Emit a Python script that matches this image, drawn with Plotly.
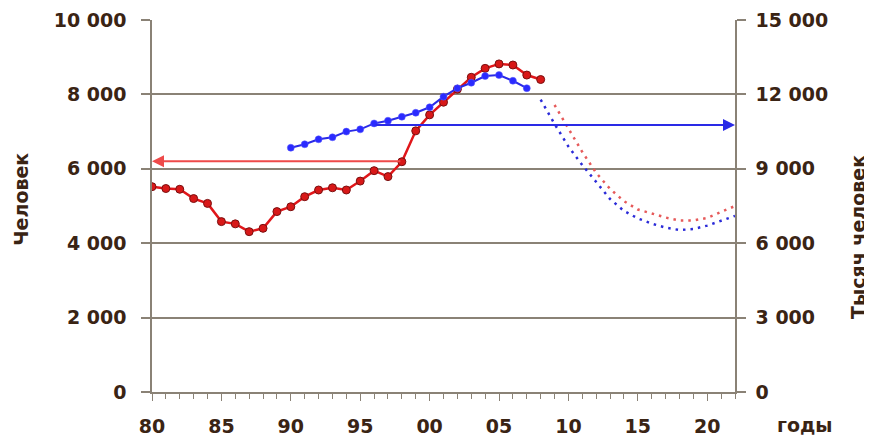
import plotly.graph_objects as go

# ---- data ----
red_years = list(range(1980, 2009))
red_values = [5520, 5470, 5450, 5200, 5070, 4580, 4520, 4310, 4400, 4850,
              4980, 5250, 5430, 5490, 5430, 5670, 5950, 5790, 6190, 7020,
              7450, 7790, 8140, 8460, 8700, 8820, 8790, 8520, 8400]

blue_years = list(range(1990, 2008))
blue_values = [9850, 9990, 10190, 10270, 10500, 10590, 10830, 10940, 11100, 11260,
               11480, 11910, 12250, 12470, 12740, 12780, 12550, 12250]

red_fc_years = list(range(2009, 2023))
red_fc_values = [7715, 7070, 6450, 5890, 5460, 5130, 4905, 4800, 4690, 4610,
                 4610, 4680, 4840, 5000]

blue_fc_years = list(range(2008, 2023))
blue_fc_values = [11790, 10810, 9900, 9150, 8470, 7780, 7300, 7000, 6790, 6630,
                  6530, 6570, 6710, 6900, 7100]

red_arrow = {"from_year": 1998, "to_year": 1980, "value": 6200}
blue_arrow = {"from_year": 1996, "to_year": 2022, "value": 10770}

x_tickvals = [1980, 1985, 1990, 1995, 2000, 2005, 2010, 2015, 2020]
x_ticktext = ["80", "85", "90", "95", "00", "05", "10", "15", "20"]
left_tickvals = [0, 2000, 4000, 6000, 8000, 10000]
left_ticktext = ["0", "2 000", "4 000", "6 000", "8 000", "10 000"]
right_tickvals = [0, 3000, 6000, 9000, 12000, 15000]
right_ticktext = ["0", "3 000", "6 000", "9 000", "12 000", "15 000"]

left_title = "Человек"
right_title = "Тысяч человек"
x_title = "годы"

# ---- style ----
TXT = "#3a2414"
AX = "#8a8276"
FONT = dict(family="DejaVu Sans", size=19, color=TXT, weight="bold")

fig = go.Figure()

fig.add_trace(go.Scatter(
    x=red_fc_years, y=red_fc_values, mode="lines", yaxis="y",
    line=dict(color="#e65a5a", width=2.5, dash="2.5px,5px"), hoverinfo="skip"))
fig.add_trace(go.Scatter(
    x=blue_fc_years, y=blue_fc_values, mode="lines", yaxis="y2",
    line=dict(color="#2b2bd8", width=2.5, dash="2.5px,5px"), hoverinfo="skip"))

fig.add_trace(go.Scatter(
    x=red_years, y=red_values, mode="lines+markers", yaxis="y",
    line=dict(color="#e0161a", width=2.5),
    marker=dict(color="#d81818", size=8, line=dict(color="#7a1010", width=1))))
fig.add_trace(go.Scatter(
    x=blue_years, y=blue_values, mode="lines+markers", yaxis="y2",
    line=dict(color="#2a2ae6", width=2),
    marker=dict(color="#2a2aff", size=7, line=dict(color="#5a5aff", width=0.5))))

annotations = [
    dict(x=red_arrow["to_year"], y=red_arrow["value"], xref="x", yref="y",
         ax=red_arrow["from_year"], ay=red_arrow["value"], axref="x", ayref="y",
         showarrow=True, arrowhead=2, arrowsize=1.2, arrowwidth=2,
         arrowcolor="#ee4a4a", text=""),
    dict(x=blue_arrow["to_year"], y=blue_arrow["value"], xref="x", yref="y2",
         ax=blue_arrow["from_year"], ay=blue_arrow["value"], axref="x", ayref="y2",
         showarrow=True, arrowhead=2, arrowsize=1.2, arrowwidth=2,
         arrowcolor="#2a2ae6", text=""),
    dict(text=left_title, xref="paper", yref="paper", x=-0.225, y=0.519,
         textangle=-90, showarrow=False, font=FONT, xanchor="center", yanchor="middle"),
    dict(text=right_title, xref="paper", yref="paper", x=1.211, y=0.417,
         textangle=-90, showarrow=False, font=FONT, xanchor="center", yanchor="middle"),
    dict(text=x_title, xref="paper", yref="paper", x=1.12, y=-0.0887,
         showarrow=False, font=FONT, xanchor="center", yanchor="middle"),
]

# the page adds an 8px body margin, so the figure is sized 864x437
fig.update_layout(
    width=864, height=437,
    margin=dict(l=144, r=137, t=12, b=53, autoexpand=False),
    paper_bgcolor="white", plot_bgcolor="white",
    showlegend=False,
    annotations=annotations,
    xaxis=dict(
        range=[1980, 2022], tickvals=x_tickvals, ticktext=x_ticktext,
        automargin=False,
        showgrid=False, zeroline=False, showline=True, linecolor=AX, linewidth=1.5,
        ticks="outside", ticklen=7, tickcolor=AX, tickwidth=1.2,
        minor=dict(dtick=1, tick0=1980, ticks="outside", ticklen=5, tickcolor=AX, tickwidth=1.2),
        tickfont=FONT, ticklabelstandoff=9),
    yaxis=dict(
        range=[0, 10000], tickvals=left_tickvals, ticktext=left_ticktext,
        automargin=False,
        showgrid=True, gridcolor=AX, gridwidth=1.5, zeroline=False,
        showline=True, linecolor=AX, linewidth=1.5,
        ticks="outside", ticklen=9, tickcolor=AX, tickwidth=1.5,
        tickfont=FONT, ticklabelstandoff=11),
    yaxis2=dict(
        range=[0, 15000], tickvals=right_tickvals, ticktext=right_ticktext,
        automargin=False,
        overlaying="y", side="right", showgrid=False, zeroline=False,
        showline=True, linecolor=AX, linewidth=1.5,
        ticks="outside", ticklen=9, tickcolor=AX, tickwidth=1.5,
        tickfont=FONT, ticklabelstandoff=6),
)

fig.write_html("out.html")
